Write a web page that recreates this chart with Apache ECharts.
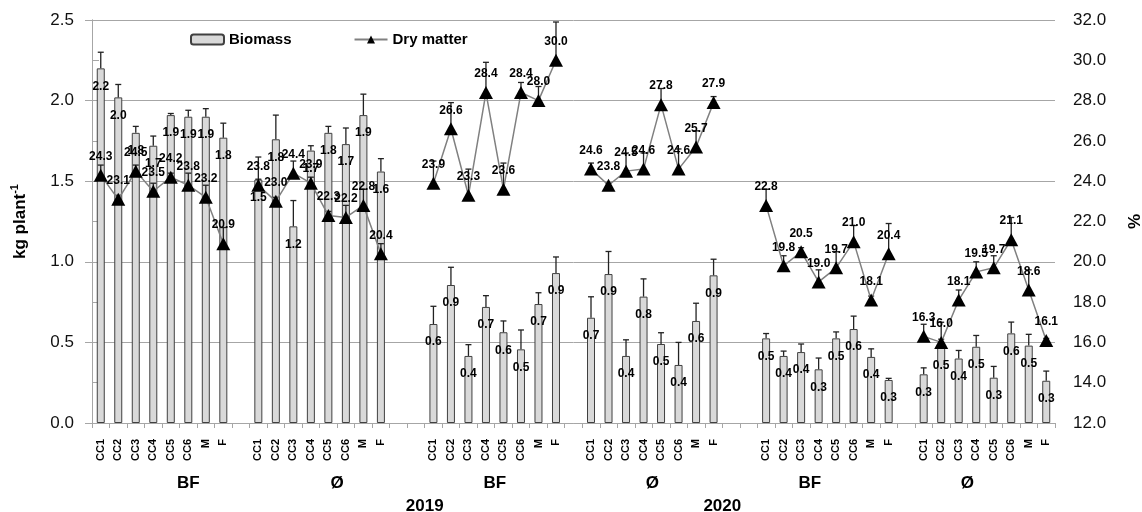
<!DOCTYPE html>
<html><head><meta charset="utf-8">
<script src="https://cdn.jsdelivr.net/npm/echarts@6/dist/echarts.min.js"></script>
<style>html,body{margin:0;padding:0;background:#fff}#c{width:1142px;height:512px}</style>
</head><body><div id="c"></div>
<script>
// ---- data ----
const groupCats = ['CC1','CC2','CC3','CC4','CC5','CC6','M','F'];
const groupNames = ['BF','Ø','BF','Ø','BF','Ø'];
const gapsAfter = [1,2,1,2,1];
const groupLabelPos = [5.5,14,23,32,41,50];
const yearLabels = ['2019','2020'];
const yearPos = [19,36];

const biomassG1 = [2.20,2.02,1.80,1.72,1.91,1.90,1.90,1.77];
const biomassG2 = [1.51,1.76,1.22,1.69,1.80,1.73,1.91,1.56];
const biomassG3 = [0.614,0.856,0.416,0.72,0.563,0.457,0.738,0.93];
const biomassG4 = [0.653,0.924,0.416,0.784,0.49,0.36,0.633,0.916];
const biomassG5 = [0.525,0.416,0.44,0.333,0.525,0.583,0.41,0.267];
const biomassG6 = [0.302,0.47,0.40,0.473,0.281,0.556,0.48,0.262];

const biomassErrG1 = [0.10,0.08,0.04,0.06,0.01,0.04,0.05,0.09];
const biomassErrG2 = [0.14,0.15,0.16,0.03,0.04,0.10,0.13,0.08];
const biomassErrG3 = [0.11,0.11,0.07,0.07,0.07,0.12,0.07,0.10];
const biomassErrG4 = [0.13,0.14,0.10,0.11,0.07,0.14,0.11,0.10];
const biomassErrG5 = [0.03,0.03,0.05,0.07,0.04,0.08,0.05,0.01];
const biomassErrG6 = [0.04,0.05,0.05,0.07,0.07,0.07,0.07,0.06];

const dryMatterG1 = [24.3,23.1,24.5,23.5,24.2,23.8,23.2,20.9];
const dryMatterG2 = [23.8,23.0,24.4,23.9,22.3,22.2,22.8,20.4];
const dryMatterG3 = [23.9,26.6,23.3,28.4,23.6,28.4,28.0,30.0];
const dryMatterG4 = [24.6,23.8,24.5,24.6,27.8,24.6,25.7,27.9];
const dryMatterG5 = [22.8,19.8,20.5,19.0,19.7,21.0,18.1,20.4];
const dryMatterG6 = [16.3,16.0,18.1,19.5,19.7,21.1,18.6,16.1];

const dryMatterErrG1 = [0.5,0.2,0.3,0.4,0.2,0.6,0.6,0.8];
const dryMatterErrG2 = [0.3,0.2,0.6,0.3,0.2,0.6,0.8,0.5];
const dryMatterErrG3 = [1.1,1.3,1.3,1.5,1.3,0.5,0.7,1.9];
const dryMatterErrG4 = [0.3,0.1,0.9,0.8,0.8,1.0,0.8,0.3];
const dryMatterErrG5 = [0.8,0.5,0.2,0.6,0.8,0.8,0.2,1.5];
const dryMatterErrG6 = [0.6,1.0,0.5,0.5,0.6,1.1,1.0,0.1];

// ---- build flat category axis with gap slots ----
const bioGroups = [biomassG1,biomassG2,biomassG3,biomassG4,biomassG5,biomassG6];
const bioErrGroups = [biomassErrG1,biomassErrG2,biomassErrG3,biomassErrG4,biomassErrG5,biomassErrG6];
const dmGroups = [dryMatterG1,dryMatterG2,dryMatterG3,dryMatterG4,dryMatterG5,dryMatterG6];
const dmErrGroups = [dryMatterErrG1,dryMatterErrG2,dryMatterErrG3,dryMatterErrG4,dryMatterErrG5,dryMatterErrG6];

const cats = [], bio = [], dm = [], bioErrData = [], dmErrData = [];
groupNames.forEach((g, gi) => {
  groupCats.forEach((c, ci) => {
    const idx = cats.length;
    cats.push(c);
    bio.push(bioGroups[gi][ci]);
    dm.push(dmGroups[gi][ci]);
    bioErrData.push([idx, bioGroups[gi][ci], bioErrGroups[gi][ci]]);
    dmErrData.push([idx, dmGroups[gi][ci], dmErrGroups[gi][ci]]);
  });
  if (gi < gapsAfter.length) {
    for (let k = 0; k < gapsAfter[gi]; k++) { cats.push(''); bio.push(null); dm.push(null); }
  }
});
const nSlots = cats.length;

function errRender(params, api) {
  const x = api.value(0), v = api.value(1), e = api.value(2);
  const p0 = api.coord([x, v]);
  const p1 = api.coord([x, v + e]);
  const w = 3;
  const st = { stroke: '#222', lineWidth: 1.3 };
  return { type: 'group', children: [
    { type: 'line', shape: { x1: p0[0], y1: p0[1], x2: p1[0], y2: p1[1] }, style: st },
    { type: 'line', shape: { x1: p1[0] - w, y1: p1[1], x2: p1[0] + w, y2: p1[1] }, style: st }
  ]};
}

const FONT = 'Liberation Sans';
const gridGray = '#a6a6a6';

const chart = echarts.init(document.getElementById('c'), null, { renderer: 'canvas' });
chart.setOption({
  animation: false,
  textStyle: { fontFamily: FONT },
  grid: { left: 92, right: 87, top: 20, bottom: 89, containLabel: false, outerBoundsMode: 'none' },
  legend: {
    data: ['Biomass', 'Dry matter'],
    left: 190, top: 32, padding: 0,
    itemWidth: 33, itemHeight: 10, itemGap: 62,
    textStyle: { fontSize: 15, fontWeight: 'bold', color: '#000', fontFamily: FONT }
  },
  xAxis: [
    {
      type: 'category', data: cats, boundaryGap: true,
      axisLine: { lineStyle: { color: gridGray } },
      axisTick: { show: true, interval: 0, length: 5, lineStyle: { color: gridGray } },
      axisLabel: { interval: 0, rotate: 90, fontSize: 11, fontWeight: 'bold', color: '#000', margin: 16, fontFamily: FONT },
      splitLine: { show: false }
    },
    {
      type: 'value', min: 0, max: nSlots, interval: 0.5, position: 'bottom',
      axisLine: { show: false }, axisTick: { show: false }, splitLine: { show: false },
      axisLabel: {
        margin: 52, fontSize: 17, fontWeight: 'bold', color: '#000', fontFamily: FONT,
        showMinLabel: true, showMaxLabel: true,
        formatter: v => { const i = groupLabelPos.indexOf(v); return i >= 0 ? groupNames[i] : ''; }
      }
    },
    {
      type: 'value', min: 0, max: nSlots, interval: 0.5, position: 'bottom',
      axisLine: { show: false }, axisTick: { show: false }, splitLine: { show: false },
      axisLabel: {
        margin: 75, fontSize: 17, fontWeight: 'bold', color: '#000', fontFamily: FONT,
        showMinLabel: true, showMaxLabel: true,
        formatter: v => { const i = yearPos.indexOf(v); return i >= 0 ? yearLabels[i] : ''; }
      }
    }
  ],
  yAxis: [
    {
      type: 'value', min: 0, max: 2.5, interval: 0.5, position: 'left',
      axisLine: { show: true, lineStyle: { color: gridGray } },
      axisTick: { show: true, length: 7, lineStyle: { color: gridGray } },
      axisLabel: { formatter: v => v.toFixed(1), fontSize: 17, color: '#111', margin: 18, fontFamily: FONT },
      splitLine: { show: true, lineStyle: { color: gridGray, width: 1 } },
      name: '{n|kg plant}{s|-1}', nameLocation: 'middle', nameGap: 61, nameRotate: 90,
      nameTextStyle: {
        rich: {
          n: { fontSize: 17, fontWeight: 'bold', color: '#000', fontFamily: FONT, lineHeight: 22 },
          s: { fontSize: 11, fontWeight: 'bold', color: '#000', fontFamily: FONT, lineHeight: 12, verticalAlign: 'top' }
        }
      }
    },
    {
      type: 'value', min: 12, max: 32, interval: 2, position: 'right',
      axisLine: { show: true, lineStyle: { color: gridGray } },
      axisTick: { show: true, length: 7, lineStyle: { color: gridGray } },
      axisLabel: { formatter: v => v.toFixed(1), fontSize: 17, color: '#111', margin: 18, fontFamily: FONT },
      splitLine: { show: false },
      name: '%', nameLocation: 'middle', nameGap: 72, nameRotate: 90,
      nameTextStyle: { fontSize: 17, fontWeight: 'bold', color: '#000', fontFamily: FONT }
    }
  ],
  series: [
    {
      name: 'Biomass', type: 'bar', data: bio, barWidth: 8, xAxisIndex: 0, yAxisIndex: 0,
      itemStyle: { color: '#d9d9d9', borderColor: '#404040', borderWidth: 1 },
      label: {
        show: true, position: 'insideTop', distance: 12,
        formatter: p => p.value == null ? '' : p.value.toFixed(1),
        fontSize: 12, fontWeight: 'bold', color: '#000', textBorderWidth: 0, fontFamily: FONT
      },
      z: 2
    },
    {
      type: 'custom', xAxisIndex: 0, yAxisIndex: 0, data: bioErrData,
      renderItem: errRender, encode: { x: 0, y: 1 }, z: 3, silent: true
    },
    {
      type: 'custom', xAxisIndex: 0, yAxisIndex: 1, data: dmErrData,
      renderItem: errRender, encode: { x: 0, y: 1 }, z: 4, silent: true
    },
    {
      name: 'Dry matter', type: 'line', data: dm, xAxisIndex: 0, yAxisIndex: 1,
      connectNulls: false, symbol: 'triangle', symbolSize: [14, 13],
      itemStyle: { color: '#000' },
      lineStyle: { color: '#808080', width: 1.5 },
      label: {
        show: true, position: 'top', distance: 6,
        formatter: p => p.value == null ? '' : p.value.toFixed(1),
        fontSize: 12, fontWeight: 'bold', color: '#000', fontFamily: FONT
      },
      z: 5
    }
  ]
});
</script></body></html>
